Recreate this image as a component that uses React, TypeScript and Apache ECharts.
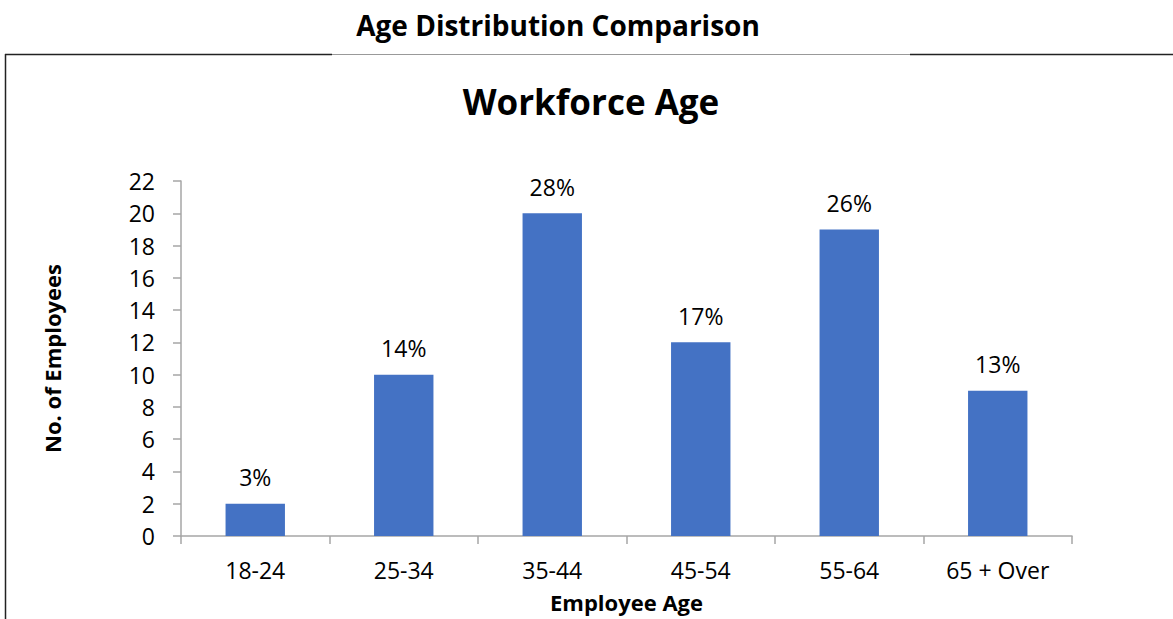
import React, { useEffect, useRef } from "react";
import * as echarts from "echarts";

const categories = ["18-24", "25-34", "35-44", "45-54", "55-64", "65 + Over"];
const employees = [2, 10, 20, 12, 19, 9];
const percentLabels = ["3%", "14%", "28%", "17%", "26%", "13%"];

const FONT = "'Open Sans', sans-serif";

export default function App() {
  const ref = useRef<HTMLDivElement>(null);
  useEffect(() => {
    if (!ref.current) return;
    const chart = echarts.init(ref.current, null, { renderer: "svg" });
    chart.setOption({
      animation: false,
      backgroundColor: "#ffffff",
      title: [
        {
          text: "Age Distribution Comparison",
          left: 553,
          top: 6,
          textAlign: "center",
          textStyle: { fontFamily: FONT, fontWeight: "bold", fontSize: 28, color: "#000" },
        },
        {
          text: "Workforce Age",
          left: 586,
          top: 79,
          textAlign: "center",
          textStyle: { fontFamily: FONT, fontWeight: "bold", fontSize: 35, color: "#000" },
        },
      ],
      graphic: [
        { type: "line", shape: { x1: 5, y1: 54.5, x2: 332, y2: 54.5 }, style: { stroke: "#222", lineWidth: 1.5 } },
        { type: "line", shape: { x1: 332, y1: 54.5, x2: 910, y2: 54.5 }, style: { stroke: "#999", lineWidth: 1 } },
        { type: "line", shape: { x1: 910, y1: 54.5, x2: 1173, y2: 54.5 }, style: { stroke: "#222", lineWidth: 1.5 } },
        { type: "line", shape: { x1: 5.5, y1: 54, x2: 5.5, y2: 619 }, style: { stroke: "#222", lineWidth: 1.5 } },
      ],
      grid: { left: 181, right: 101, top: 181, bottom: 83, containLabel: false },
      xAxis: {
        type: "category",
        data: categories,
        name: "Employee Age",
        nameLocation: "middle",
        nameGap: 55,
        nameTextStyle: { fontFamily: FONT, fontWeight: "bold", fontSize: 22, color: "#000" },
        axisLine: { lineStyle: { color: "#A6A6A6", width: 1.5 } },
        axisTick: { show: true, length: 8, lineStyle: { color: "#A6A6A6", width: 1.5 } },
        axisLabel: { fontFamily: FONT, fontSize: 23, color: "#000", margin: 22 },
      },
      yAxis: {
        type: "value",
        min: 0,
        max: 22,
        interval: 2,
        name: "No. of Employees",
        nameLocation: "middle",
        nameGap: 118,
        nameRotate: 90,
        nameTextStyle: { fontFamily: FONT, fontWeight: "bold", fontSize: 22, color: "#000" },
        axisLine: { show: true, lineStyle: { color: "#A6A6A6", width: 1.5 } },
        axisTick: { show: true, length: 8, lineStyle: { color: "#A6A6A6", width: 1.5 } },
        axisLabel: { fontFamily: FONT, fontSize: 23, color: "#000", margin: 26 },
        splitLine: { show: false },
      },
      series: [
        {
          type: "bar",
          data: employees,
          barWidth: "40%",
          itemStyle: { color: "#4472C4" },
          label: {
            show: true,
            position: "top",
            distance: 15,
            fontFamily: FONT,
            fontSize: 23,
            color: "#000",
            formatter: (p: any) => percentLabels[p.dataIndex],
          },
        },
      ],
    });
    return () => chart.dispose();
  }, []);
  return (
    <div
      ref={ref}
      style={{ position: "absolute", left: 0, top: 0, width: 1173, height: 619 }}
    />
  );
}
